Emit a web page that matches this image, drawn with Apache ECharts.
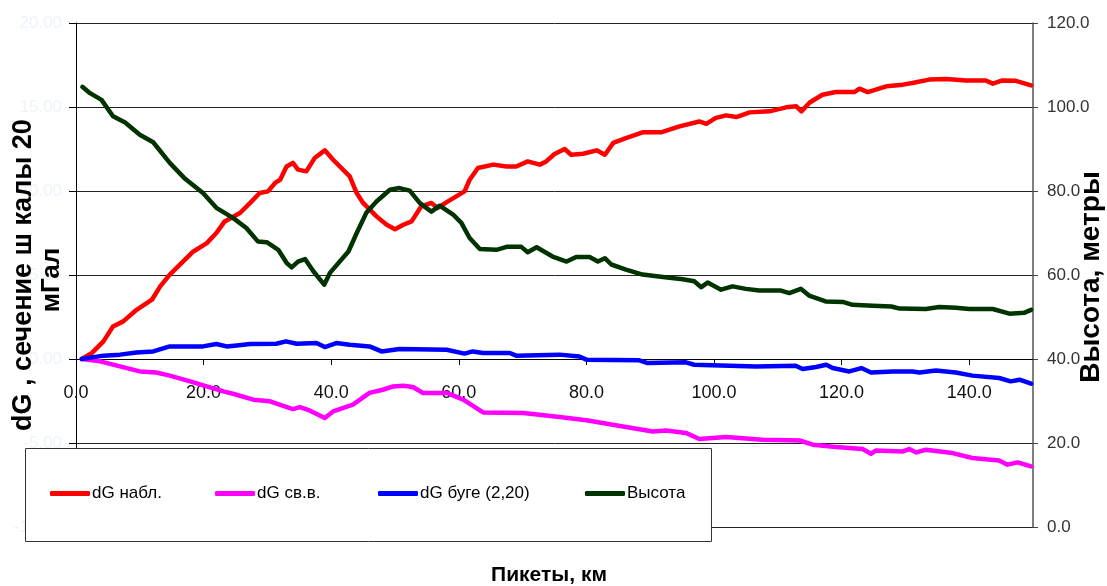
<!DOCTYPE html>
<html>
<head>
<meta charset="utf-8">
<script src="https://cdn.jsdelivr.net/npm/echarts@6/dist/echarts.min.js"></script>
<style>
html,body{margin:0;padding:0;background:#fff;}
#c{width:1107px;height:586px;}
</style>
</head>
<body>
<div id="c"></div>
<script>
// ---- data (km, value) ----
const seriesNames = ['dG набл.', 'dG св.в.', 'dG буге (2,20)', 'Высота'];

const nablKm  = [0.9,2.5,4.3,5.8,7.4,9.5,11.9,13.2,14.7,16.8,18.4,20.5,22.0,23.3,25.7,27.3,28.8,30.1,31.2,32.0,33.0,34.0,34.8,36.1,37.4,39.0,40.3,42.9,44.0,45.0,47.1,48.7,50.0,51.3,52.6,54.1,55.7,56.7,58.3,60.9,61.7,63.0,65.4,67.5,69.0,70.8,72.7,73.7,75.0,76.6,77.6,79.5,81.6,82.9,84.2,86.2,88.8,91.7,94.6,97.7,98.8,100.3,101.9,103.5,105.6,108.7,111.3,112.9,113.7,115.0,117.0,119.1,122.0,122.8,124.1,127.0,129.6,131.1,133.7,136.4,139.5,142.6,143.7,145.2,147.3,149.7];
const nablVal = [0,0.36,1.05,1.94,2.24,2.93,3.53,4.32,5.02,5.81,6.4,6.9,7.5,8.19,8.69,9.29,9.88,9.98,10.48,10.67,11.46,11.67,11.27,11.17,11.96,12.42,11.86,10.87,9.88,9.29,8.49,7.99,7.72,7.99,8.19,9.08,9.29,8.99,9.38,9.98,10.67,11.37,11.57,11.46,11.46,11.76,11.57,11.76,12.2,12.5,12.16,12.22,12.42,12.16,12.86,13.15,13.49,13.49,13.85,14.14,14.0,14.35,14.5,14.4,14.68,14.74,14.98,15.04,14.74,15.27,15.73,15.89,15.89,16.09,15.89,16.23,16.33,16.43,16.63,16.67,16.58,16.58,16.39,16.58,16.56,16.29];

const svvKm  = [0.9,3.8,6.9,10.0,12.6,14.7,17.9,20.5,23.1,24.6,27.8,30.4,34.0,35.1,36.6,39.0,40.3,43.4,46.0,48.1,49.7,51.3,52.8,54.4,58.1,60.7,63.8,70.1,75.8,80.0,86.2,90.4,92.5,95.6,97.7,101.9,107.6,113.4,115.5,119.1,123.3,124.6,125.4,129.6,130.6,131.7,133.2,137.4,140.5,144.7,146.0,147.6,149.7];
const svvVal = [0,-0.14,-0.44,-0.74,-0.8,-0.99,-1.33,-1.63,-1.93,-2.07,-2.42,-2.52,-2.98,-2.86,-3.06,-3.51,-3.12,-2.72,-2.02,-1.83,-1.63,-1.59,-1.67,-2.02,-2.02,-2.42,-3.18,-3.21,-3.45,-3.65,-4.05,-4.31,-4.25,-4.4,-4.76,-4.64,-4.8,-4.85,-5.1,-5.24,-5.36,-5.64,-5.44,-5.5,-5.36,-5.56,-5.4,-5.6,-5.89,-6.04,-6.29,-6.15,-6.39];

const bugeKm  = [0.9,4.3,6.9,9.5,12.1,14.7,19.9,22.0,23.6,25.2,27.3,31.4,32.9,34.6,37.7,39.0,40.8,42.9,46.0,47.9,50.7,58.1,60.9,62.2,63.8,68.0,69.0,75.8,78.9,80.0,88.3,89.6,95.6,96.9,106.6,112.8,113.9,116.0,117.6,118.6,121.2,123.1,124.6,128.0,131.1,132.2,134.8,137.9,140.5,144.7,146.5,147.9,149.7];
const bugeVal = [0,0.2,0.26,0.39,0.45,0.75,0.75,0.89,0.75,0.81,0.89,0.91,1.05,0.91,0.95,0.71,0.95,0.85,0.75,0.45,0.6,0.55,0.32,0.45,0.36,0.36,0.2,0.26,0.15,-0.04,-0.08,-0.24,-0.2,-0.34,-0.44,-0.4,-0.6,-0.48,-0.34,-0.54,-0.74,-0.54,-0.8,-0.74,-0.74,-0.8,-0.68,-0.8,-0.99,-1.13,-1.33,-1.23,-1.47];

const heightKm  = [1.0,2.2,4.0,5.8,7.7,10.0,12.1,14.7,17.1,19.9,22.0,24.6,26.7,28.5,29.9,31.7,33.0,33.8,34.8,35.9,37.2,38.9,39.8,42.7,44.0,45.5,47.1,49.2,50.7,52.3,53.9,55.7,57.0,59.1,60.4,61.7,63.3,65.9,67.5,69.8,70.8,72.2,74.7,76.9,78.4,80.5,81.8,82.9,83.9,86.2,88.8,92.0,95.1,96.9,98.0,99.0,101.1,102.9,105.0,107.1,110.5,111.8,113.6,114.9,117.5,120.2,121.7,124.9,127.8,129.1,133.2,135.3,137.9,140.0,143.7,146.3,148.6,149.7];
const heightVal = [104.8,103.3,101.7,97.8,96.3,93.4,91.6,86.7,82.9,79.5,76.0,73.6,71.2,68.0,67.8,66.0,62.9,61.8,63.2,63.8,60.9,57.7,60.5,65.6,70.0,74.8,77.5,80.3,80.7,80.1,77.1,75.1,76.5,74.4,72.4,68.8,66.2,66.0,66.7,66.7,65.4,66.6,64.4,63.2,64.3,64.3,63.2,64.0,62.5,61.3,60.1,59.5,59.0,58.5,57.1,58.2,56.5,57.3,56.7,56.3,56.3,55.7,56.7,55.1,53.7,53.6,52.9,52.7,52.5,52.0,51.9,52.4,52.2,51.9,51.9,50.8,51.0,51.7];

const zip = (a, b) => a.map((x, i) => [x, b[i]]);

const reg = "'Liberation Sans', Arial, sans-serif";

const chart = echarts.init(document.getElementById('c'), null, {renderer: 'canvas'});

const lineSeries = (name, data, color, yIdx) => ({
  name, type: 'line', data, yAxisIndex: yIdx,
  showSymbol: false, symbol: 'none', smooth: false,
  lineStyle: {color, width: 4.5, cap: 'round', join: 'round'},
  itemStyle: {color},
  z: 3, animation: false
});

const legendLefts = [50, 215, 378, 585];
const legends = seriesNames.map((n, i) => ({
  data: [n],
  left: legendLefts[i], top: 485,
  itemWidth: 40, itemHeight: 5, itemGap: 0,
  icon: 'roundRect',
  padding: 0,
  textStyle: {fontFamily: reg, fontSize: 17, color: '#000', padding: [0, 0, 0, -3]},
  selectedMode: false,
  z: 101
}));

chart.setOption({
  animation: false,
  backgroundColor: '#fff',
  grid: {left: 76, right: 74, top: 23, bottom: 59, containLabel: false},
  xAxis: {
    type: 'value', min: 0, max: 150, interval: 20, position: 'bottom',
    axisLine: {show: true, onZero: false, lineStyle: {color: '#000', width: 1}},
    axisTick: {show: true, length: 6, lineStyle: {color: '#000'}},
    axisLabel: {margin: 25, fontFamily: reg, fontSize: 18, color: '#111', showMaxLabel: false, formatter: v => v.toFixed(1)},
    splitLine: {show: false}
  },
  yAxis: [
    {
      type: 'value', min: -10, max: 20, interval: 5, position: 'left',
      axisLine: {show: true, lineStyle: {color: '#000', width: 1}},
      axisTick: {show: true, length: 7, lineStyle: {color: '#000'}},
      axisLabel: {margin: 14, fontFamily: reg, fontSize: 17, color: '#eef2fb', formatter: v => v.toFixed(2)},
      splitLine: {show: true, lineStyle: {color: '#222', width: 1}}
    },
    {
      type: 'value', min: 0, max: 120, interval: 20, position: 'right',
      axisLine: {show: true, lineStyle: {color: '#555', width: 1.5}},
      axisTick: {show: true, length: 5, lineStyle: {color: '#444'}},
      axisLabel: {margin: 14, fontFamily: reg, fontSize: 17, color: '#333', formatter: v => v.toFixed(1)},
      splitLine: {show: false}
    }
  ],
  legend: legends,
  graphic: [
    {type: 'rect', z: 100, shape: {x: 25.5, y: 448.5, width: 686, height: 93},
     style: {fill: '#fff', stroke: '#333', lineWidth: 1}},
    {type: 'text', z: 100, x: 549, y: 575,
     style: {text: 'Пикеты, км', font: "bold 21px " + reg, fill: '#000', textAlign: 'center', textVerticalAlign: 'middle'}},
    {type: 'text', z: 100, x: 24, y: 275, rotation: Math.PI / 2,
     style: {text: 'dG , сечение ш калы 20', font: "bold 27px " + reg, fill: '#000', textAlign: 'center', textVerticalAlign: 'middle'}},
    {type: 'text', z: 100, x: 52, y: 280, rotation: Math.PI / 2,
     style: {text: 'мГал', font: "bold 26px " + reg, fill: '#000', textAlign: 'center', textVerticalAlign: 'middle'}},
    {type: 'text', z: 100, x: 1091, y: 277, rotation: Math.PI / 2,
     style: {text: 'Высота, метры', font: "bold 28px " + reg, fill: '#000', textAlign: 'center', textVerticalAlign: 'middle'}}
  ],
  series: [
    lineSeries(seriesNames[0], zip(nablKm, nablVal), '#ff0000', 0),
    lineSeries(seriesNames[1], zip(svvKm, svvVal), '#ff00ff', 0),
    lineSeries(seriesNames[2], zip(bugeKm, bugeVal), '#0000ff', 0),
    lineSeries(seriesNames[3], zip(heightKm, heightVal), '#003300', 1)
  ]
});

// move the x axis so that it crosses the left axis at 0 (computed from the scale)
const yZero = chart.convertToPixel({yAxisIndex: 0}, 0);
const yMin = chart.convertToPixel({yAxisIndex: 0}, -10);
chart.setOption({xAxis: {offset: yZero - yMin}});
</script>
</body>
</html>
